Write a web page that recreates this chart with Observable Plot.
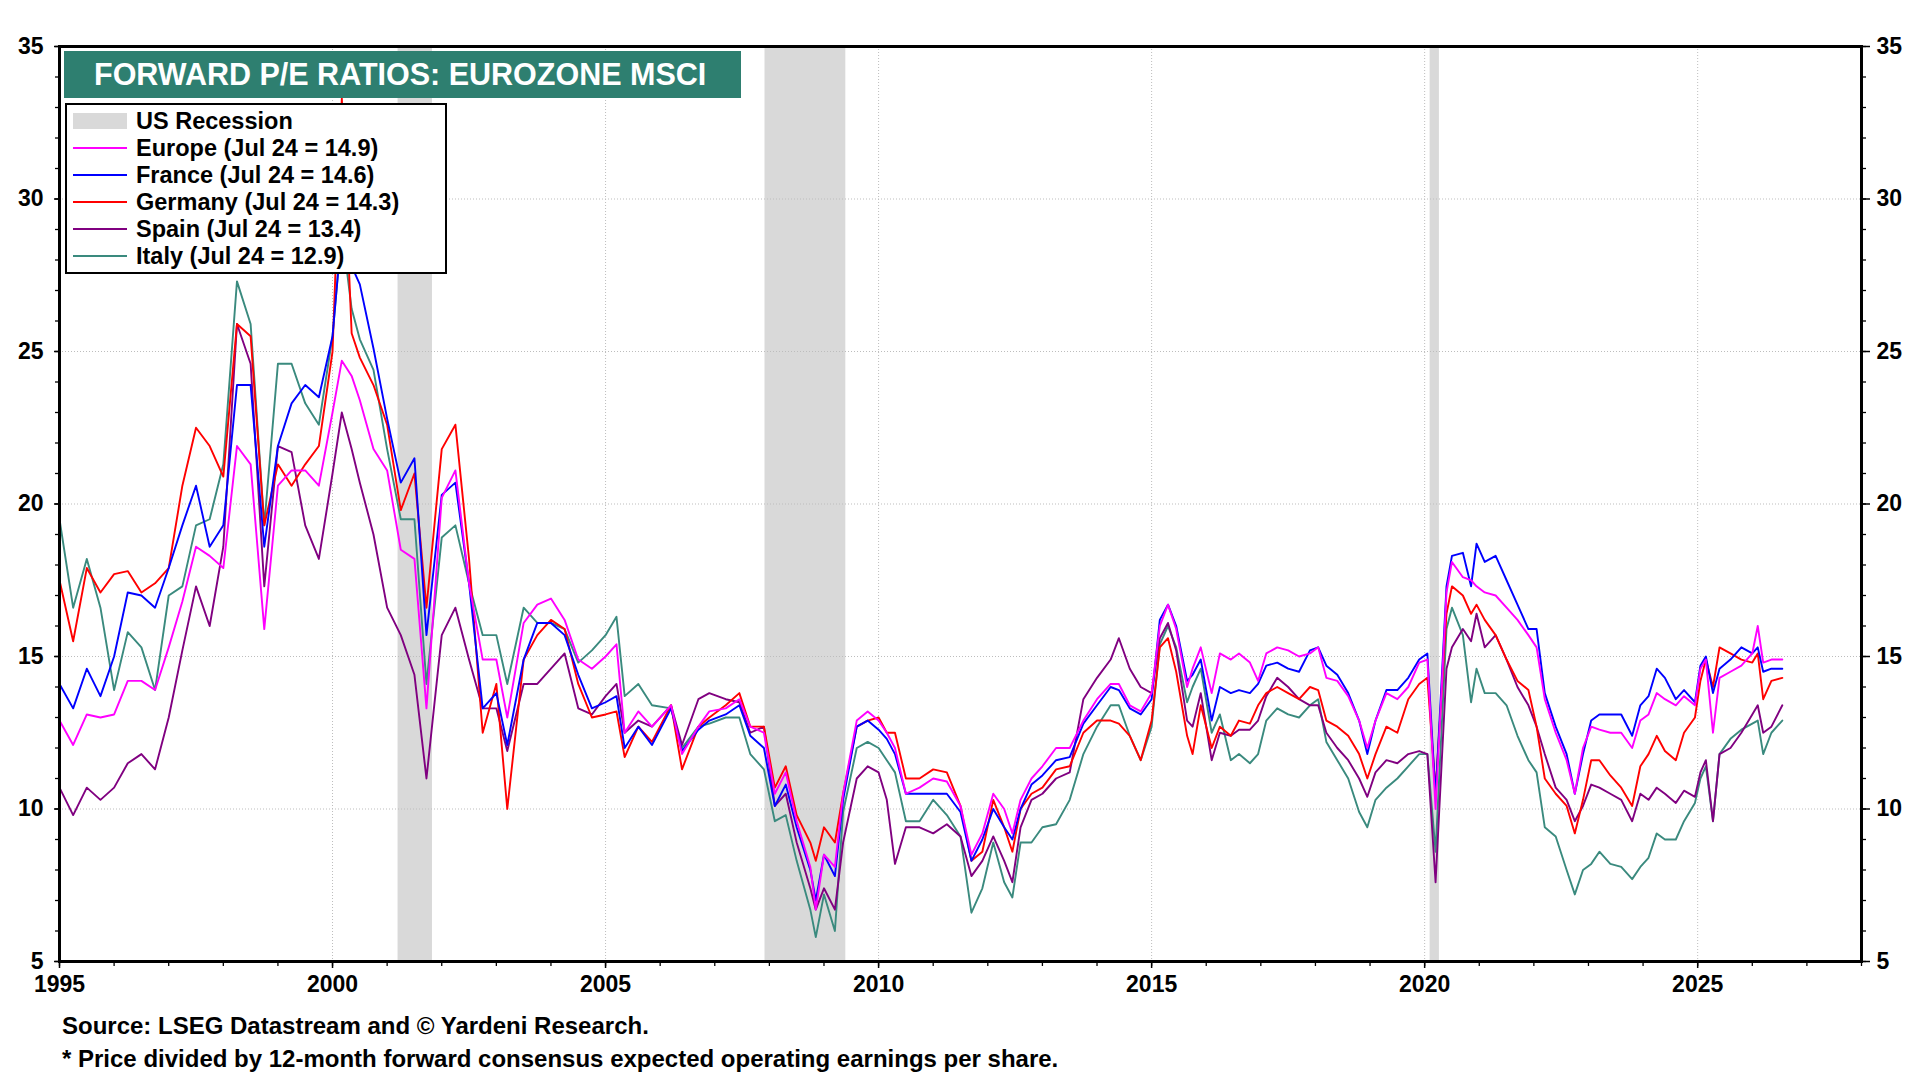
<!DOCTYPE html>
<html>
<head>
<meta charset="utf-8">
<script src="https://cdn.jsdelivr.net/npm/d3@7"></script>
<script src="https://cdn.jsdelivr.net/npm/@observablehq/plot@0.6"></script>
<style>
  body { margin: 0; background: #fff; font-family: "Liberation Sans", Arial, sans-serif; }
  #wrap { position: relative; width: 1920px; height: 1080px; overflow: hidden; background: #fff; }
  #chart { position: absolute; left: 0; top: 0; }
  #title { position: absolute; left: 64px; top: 51px; width: 677px; height: 47px; background: #2e7f70;
           color: #fff; font-weight: bold; font-size: 30.5px; line-height: 47px; padding-left: 30px; box-sizing: border-box; white-space: nowrap; }
  #legend { position: absolute; left: 65px; top: 103px; width: 382px; height: 171px; background: #fff;
            border: 2px solid #000; box-sizing: border-box; }
  .item { position: absolute; left: 0; height: 26px; width: 378px; }
  .sw { position: absolute; left: 6px; width: 54px; top: 12px; height: 2px; }
  .sw.rec { top: 5px; height: 16px; background: #d9d9d9; }
  .lbl { position: absolute; left: 69px; top: 0; font-weight: bold; font-size: 23.5px; line-height: 26px; color: #000; white-space: nowrap; }
  .foot { position: absolute; left: 62px; font-weight: bold; font-size: 24px; color: #000; white-space: nowrap; line-height: 26px; }
</style>
</head>
<body>
<div id="wrap">
  <div id="chart"></div>
  <div id="title"></div>
  <div id="legend"></div>
  <div class="foot" id="foot1" style="top:1013px"></div>
  <div class="foot" id="foot2" style="top:1046px"></div>
</div>
<script>
// ---- Data (decimal years) ----
const dates = [
  1995.0,1995.25,1995.5,1995.75,1996.0,1996.25,1996.5,1996.75,
  1997.0,1997.25,1997.5,1997.75,1998.0,1998.25,1998.5,1998.75,1999.0,1999.25,1999.5,1999.75,
  2000.0,2000.17,2000.35,2000.5,2000.75,2001.0,2001.25,2001.5,2001.72,
  2002.0,2002.25,2002.5,2002.75,2003.0,2003.2,2003.5,2003.75,2004.0,2004.25,2004.5,2004.75,
  2005.0,2005.2,2005.35,2005.6,2005.85,2006.2,2006.4,2006.7,2006.9,2007.2,2007.45,2007.65,2007.9,
  2008.1,2008.3,2008.5,2008.75,2008.85,2009.0,2009.2,2009.35,2009.6,2009.8,
  2010.0,2010.15,2010.3,2010.5,2010.75,2011.0,2011.25,2011.5,2011.7,2011.9,
  2012.1,2012.3,2012.45,2012.6,2012.8,2013.0,2013.25,2013.5,2013.75,2014.0,2014.25,2014.4,2014.6,2014.8,
  2015.0,2015.15,2015.3,2015.45,2015.65,2015.75,2015.9,2016.1,2016.25,2016.45,2016.6,2016.8,2016.95,
  2017.1,2017.3,2017.5,2017.7,2017.9,2018.05,2018.2,2018.4,2018.6,2018.8,2018.95,2019.1,2019.3,2019.5,2019.7,2019.9,
  2020.05,2020.2,2020.4,2020.5,2020.7,2020.85,2020.95,2021.1,2021.3,2021.5,2021.7,2021.9,
  2022.05,2022.2,2022.4,2022.6,2022.75,2022.9,2023.05,2023.2,2023.4,2023.6,2023.8,2023.95,
  2024.1,2024.25,2024.4,2024.6,2024.75,2024.95,2025.05,2025.15,2025.28,2025.4,2025.6,2025.8,2026.0,2026.1,2026.2,2026.35,2026.55
];
const europe = [
  12.9,12.1,13.1,13.0,13.1,14.2,14.2,13.9,
  15.3,16.8,18.6,18.3,17.9,21.9,21.3,15.9,20.6,21.1,21.1,20.6,
  23.0,24.7,24.2,23.4,21.8,21.1,18.5,18.2,13.3,
  20.2,21.1,17.4,14.9,14.9,13.0,16.1,16.7,16.9,16.2,14.9,14.6,
  15.0,15.4,12.5,13.2,12.7,13.4,11.8,12.7,13.2,13.3,13.6,12.7,12.5,
  10.5,11.2,9.6,8.1,6.7,8.5,8.1,10.5,12.9,13.2,
  12.9,12.5,12.0,10.5,10.7,11.0,10.9,10.1,8.5,9.2,
  10.5,10.0,9.2,10.3,11.0,11.4,12.0,12.0,12.9,13.6,14.1,14.1,13.4,13.2,
  13.8,16.0,16.7,15.9,14.0,14.6,15.3,13.8,15.1,14.9,15.1,14.8,14.2,
  15.1,15.3,15.2,15.0,15.1,15.3,14.3,14.2,13.7,12.9,12.0,12.9,13.8,13.6,14.0,14.8,
  14.9,10.0,17.1,18.1,17.6,17.5,17.3,17.1,17.0,16.6,16.2,15.7,
  15.3,13.6,12.5,11.6,10.5,12.0,12.7,12.6,12.5,12.5,12.0,12.9,
  13.1,13.8,13.6,13.4,13.7,13.4,14.6,14.9,12.5,14.3,14.5,14.7,15.1,16.0,14.8,14.9,14.9
];
const france = [
  14.1,13.3,14.6,13.7,15.0,17.1,17.0,16.6,
  17.9,19.3,20.6,18.6,19.3,23.9,23.9,18.6,21.9,23.3,23.9,23.5,
  25.5,29.0,27.8,27.2,25.1,22.8,20.7,21.5,15.7,
  20.3,20.7,17.4,13.3,13.8,12.1,14.9,16.1,16.1,15.7,14.4,13.3,
  13.5,13.7,12.0,12.7,12.1,13.3,11.9,12.6,12.9,13.1,13.4,12.4,12.0,
  10.1,10.8,9.4,8.0,7.0,8.5,7.8,10.3,12.7,12.9,
  12.6,12.3,11.8,10.5,10.5,10.5,10.5,9.9,8.3,9.0,
  10.0,9.4,9.0,10.0,10.8,11.1,11.6,11.7,12.8,13.4,14.0,13.9,13.3,13.1,
  13.6,16.2,16.7,16.0,14.2,14.4,14.9,12.9,14.0,13.8,13.9,13.8,14.1,
  14.7,14.8,14.6,14.5,15.2,15.3,14.7,14.4,13.8,12.9,11.8,12.9,13.9,13.9,14.3,14.9,
  15.1,10.4,17.3,18.3,18.4,17.3,18.7,18.1,18.3,17.5,16.7,15.9,
  15.9,13.8,12.7,11.8,10.5,11.8,12.9,13.1,13.1,13.1,12.4,13.4,
  13.7,14.6,14.3,13.6,13.9,13.5,14.7,15.0,13.8,14.6,14.9,15.3,15.1,15.3,14.5,14.6,14.6
];
const germany = [
  17.5,15.5,17.9,17.1,17.7,17.8,17.1,17.4,
  17.9,20.6,22.5,21.9,20.9,25.9,25.5,19.3,21.3,20.6,21.3,21.9,
  25.0,33.3,25.6,24.8,23.9,22.6,19.8,21.0,16.6,
  21.8,22.6,18.2,12.5,14.1,10.0,14.9,15.7,16.2,15.9,14.1,13.0,
  13.1,13.2,11.7,12.7,12.2,13.4,11.3,12.7,13.0,13.4,13.8,12.7,12.7,
  10.7,11.4,9.8,8.9,8.3,9.4,8.9,10.5,12.7,12.9,
  13.0,12.5,12.5,11.0,11.0,11.3,11.2,10.1,8.3,8.6,
  10.3,9.4,8.6,10.0,10.5,10.7,11.3,11.4,12.5,12.9,12.9,12.8,12.4,11.6,
  12.9,15.3,15.6,14.5,12.4,11.8,13.4,12.0,12.7,12.4,12.9,12.8,13.4,
  13.8,14.0,13.8,13.6,14.0,13.9,12.9,12.7,12.4,11.8,11.0,11.8,12.7,12.5,13.6,14.1,
  14.3,10.6,16.4,17.3,17.0,16.4,16.7,16.2,15.7,14.9,14.2,13.9,
  12.7,11.0,10.5,10.1,9.2,10.3,11.6,11.6,11.1,10.7,10.1,11.4,
  11.8,12.4,11.9,11.6,12.5,13.0,14.2,14.9,14.0,15.3,15.1,14.9,14.8,15.1,13.6,14.2,14.3
];
const spain = [
  10.7,9.8,10.7,10.3,10.7,11.5,11.8,11.3,
  13.0,15.2,17.3,16.0,18.6,25.9,24.6,17.3,21.9,21.7,19.3,18.2,
  21.0,23.0,21.8,20.7,19.0,16.6,15.7,14.4,11.0,
  15.7,16.6,14.9,13.3,13.3,11.9,14.1,14.1,14.6,15.1,13.3,13.1,
  13.7,14.1,12.5,12.9,12.7,13.4,12.1,13.6,13.8,13.6,13.5,12.5,12.7,
  10.1,10.5,8.9,7.4,6.7,7.4,6.7,8.9,11.0,11.4,
  11.2,10.3,8.2,9.4,9.4,9.2,9.5,9.1,7.8,8.3,
  9.1,8.3,7.6,9.4,10.3,10.5,11.0,11.2,13.6,14.3,14.9,15.6,14.6,14.0,
  13.8,15.6,16.1,15.2,12.9,12.7,13.8,11.6,12.5,12.4,12.6,12.6,12.9,
  13.7,14.3,14.0,13.6,13.4,13.4,12.5,12.0,11.6,11.0,10.4,11.2,11.6,11.5,11.8,11.9,
  11.8,7.6,14.6,15.3,15.9,15.5,16.4,15.3,15.7,14.9,14.0,13.4,
  12.7,11.8,10.7,10.3,9.6,10.1,10.8,10.7,10.5,10.3,9.6,10.5,
  10.3,10.7,10.5,10.2,10.6,10.4,11.2,11.6,9.6,11.8,12.0,12.5,13.1,13.4,12.5,12.7,13.4
];
const italy = [
  19.5,16.6,18.2,16.6,13.9,15.8,15.3,13.9,
  17.0,17.3,19.3,19.5,21.3,27.3,25.9,19.3,24.6,24.6,23.3,22.6,
  25.5,29.0,26.4,25.4,24.4,21.8,19.5,19.5,14.1,
  18.9,19.3,17.4,15.7,15.7,14.1,16.6,16.1,16.1,15.9,14.8,15.2,
  15.7,16.3,13.7,14.1,13.4,13.3,12.0,12.7,12.8,13.0,13.0,11.8,11.3,
  9.6,9.8,8.3,6.7,5.8,7.2,6.0,9.9,12.0,12.2,
  12.0,11.6,11.2,9.6,9.6,10.3,9.8,9.1,6.6,7.4,
  8.9,7.6,7.1,8.9,8.9,9.4,9.5,10.3,11.8,12.7,13.4,13.4,12.4,11.6,
  12.7,15.4,16.0,15.3,13.5,14.0,14.6,12.5,13.1,11.6,11.8,11.5,11.8,
  12.9,13.3,13.1,13.0,13.4,13.6,12.2,11.6,11.0,9.9,9.4,10.3,10.7,11.0,11.4,11.8,
  11.8,8.6,15.9,16.6,15.7,13.5,14.6,13.8,13.8,13.4,12.4,11.6,
  11.2,9.4,9.1,8.0,7.2,8.0,8.2,8.6,8.2,8.1,7.7,8.1,
  8.4,9.2,9.0,9.0,9.6,10.2,11.0,11.4,9.6,11.8,12.3,12.6,12.8,12.9,11.8,12.5,12.9
];

const seriesNames = ["Europe", "France", "Germany", "Spain", "Italy"];
const seriesLabels = ["Europe (Jul 24 = 14.9)", "France (Jul 24 = 14.6)", "Germany (Jul 24 = 14.3)", "Spain (Jul 24 = 13.4)", "Italy (Jul 24 = 12.9)"];
const seriesColors = ["#ff00ff", "#0000ff", "#ff0000", "#800080", "#3a8a7e"];
const recessionStart = [2001.2, 2007.92, 2020.1];
const recessionEnd = [2001.83, 2009.4, 2020.27];
const yMajorTicks = [5, 10, 15, 20, 25, 30, 35];
const yMinorTicks = d3.range(5, 36, 1);
const xMajorTicks = [1995, 2000, 2005, 2010, 2015, 2020, 2025];
const xMinorTicks = d3.range(1995, 2029, 1);
const titleText = "FORWARD P/E RATIOS: EUROZONE MSCI";
const recessionLabel = "US Recession";
const sourceText = "Source: LSEG Datastream and © Yardeni Research.";
const noteText = "* Price divided by 12-month forward consensus expected operating earnings per share.";

// ---- Build tables ----
const seriesValues = [europe, france, germany, spain, italy];
const rows = [];
for (let i = seriesNames.length - 1; i >= 0; i--) {
  dates.forEach((t, j) => rows.push({ t, v: seriesValues[i][j], s: seriesNames[i] }));
}
const recessions = recessionStart.map((a, i) => ({ a, b: recessionEnd[i] }));

const chart = Plot.plot({
  width: 1920,
  height: 1080,
  marginLeft: 59,
  marginRight: 59,
  marginTop: 46,
  marginBottom: 119,
  x: { domain: [1995, 2028] },
  y: { domain: [5, 35] },
  color: { domain: seriesNames, range: seriesColors },
  style: { fontFamily: '"Liberation Sans", Arial, sans-serif', fontSize: "23px", fontWeight: "bold", color: "#000", background: "#fff", overflow: "visible" },
  marks: [
    Plot.rect(recessions, { x1: "a", x2: "b", fill: "#d9d9d9" }),
    Plot.gridY(yMajorTicks.slice(1, -1), { stroke: "#bdbdbd", strokeOpacity: 1, strokeDasharray: "1,2" }),
    Plot.gridX(xMajorTicks.slice(1), { stroke: "#bdbdbd", strokeOpacity: 1, strokeDasharray: "1,2" }),
    Plot.line(rows, { x: "t", y: "v", z: "s", stroke: "s", strokeWidth: 1.9, strokeLinejoin: "round" }),
    Plot.axisY({ anchor: "left", ticks: yMinorTicks, tickSize: 4, tickFormat: () => "", label: null, strokeWidth: 1.3 }),
    Plot.axisY({ anchor: "right", ticks: yMinorTicks, tickSize: 4, tickFormat: () => "", label: null, strokeWidth: 1.3 }),
    Plot.axisY({ anchor: "left", ticks: yMajorTicks, tickSize: 5, tickPadding: 11, tickFormat: d => String(d), label: null, strokeWidth: 1.5 }),
    Plot.axisY({ anchor: "right", ticks: yMajorTicks, tickSize: 8, tickPadding: 7, tickFormat: d => String(d), label: null, strokeWidth: 1.5 }),
    Plot.axisX({ anchor: "bottom", ticks: xMinorTicks, tickSize: 5, tickFormat: () => "", label: null, strokeWidth: 1.3 }),
    Plot.axisX({ anchor: "bottom", ticks: xMajorTicks, tickSize: 7, tickPadding: 7, tickFormat: d => String(d), label: null, strokeWidth: 1.5 }),
    Plot.frame({ stroke: "#000", strokeWidth: 3 })
  ]
});
document.getElementById("chart").appendChild(chart);

// ---- Title, legend, footer ----
document.getElementById("title").textContent = titleText;
const legend = document.getElementById("legend");
const legendEntries = [{ label: recessionLabel, color: null }].concat(seriesLabels.map((l, i) => ({ label: l, color: seriesColors[i] })));
legendEntries.forEach((e, i) => {
  const item = document.createElement("div");
  item.className = "item";
  item.style.top = (3 + i * 27) + "px";
  const sw = document.createElement("div");
  sw.className = e.color ? "sw" : "sw rec";
  if (e.color) sw.style.background = e.color;
  const lbl = document.createElement("div");
  lbl.className = "lbl";
  lbl.textContent = e.label;
  item.appendChild(sw);
  item.appendChild(lbl);
  legend.appendChild(item);
});
document.getElementById("foot1").textContent = sourceText;
document.getElementById("foot2").textContent = noteText;
</script>
</body>
</html>
